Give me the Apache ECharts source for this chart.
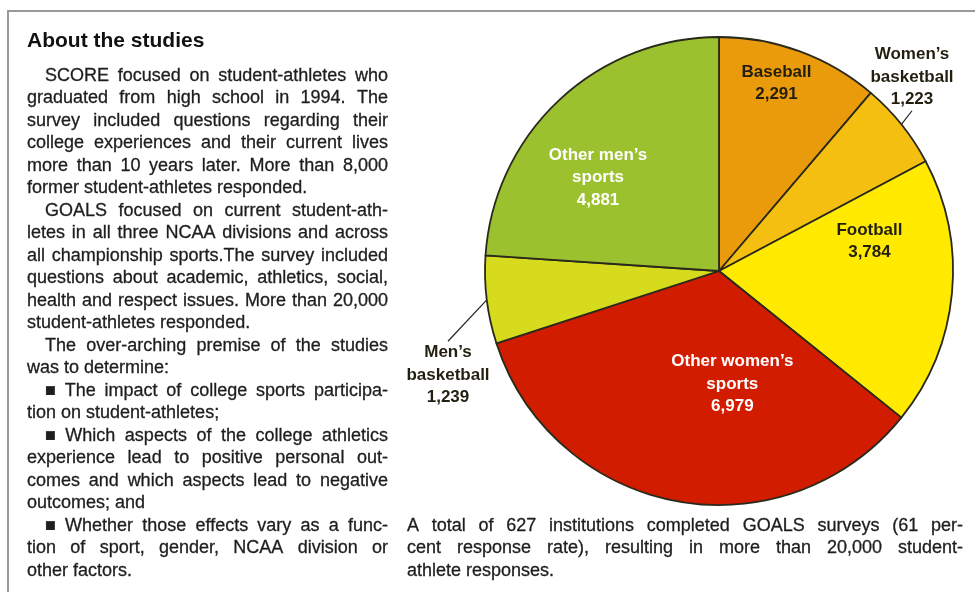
<!DOCTYPE html>
<html>
<head>
<meta charset="utf-8">
<title>About the studies</title>
<script src="https://cdn.jsdelivr.net/npm/echarts@6/dist/echarts.min.js"></script>
<style>
  html, body { margin: 0; padding: 0; background: #fff; }
  #wrap { position: relative; width: 975px; height: 592px; overflow: hidden; }
  #chart { position: absolute; left: 0; top: 0; width: 975px; height: 592px; }
  .txt { position: absolute; font-family: 'Liberation Sans', Arial, sans-serif; color: #1e1e1e; }
  .title { left: 27px; top: 28px; font-size: 21px; line-height: 24px; font-weight: bold; color: #111; }
  .line { height: 22.5px; line-height: 22.5px; font-size: 18px; white-space: nowrap; display: flex; -webkit-text-stroke: 0.3px #1e1e1e; }
  .line.just { justify-content: space-between; }
</style>
</head>
<body>
<div id="wrap">
  <div id="chart"></div>
  <div class="txt title">About the studies</div>
</div>
<script>
// pie data
const categories = ['Baseball', 'Women’s basketball', 'Football', 'Other women’s sports', 'Men’s basketball', 'Other men’s sports']
const labelNames = ['Baseball', 'Women’s\nbasketball', 'Football', 'Other women’s\nsports', 'Men’s\nbasketball', 'Other men’s\nsports']
const values = [2291, 1223, 3784, 6979, 1239, 4881]

// left column text, one entry per printed line: [text, justify, indent]
const bodyLines = [
  ['SCORE focused on student-athletes who', true, true],
  ['graduated from high school in 1994. The', true, false],
  ['survey included questions regarding their', true, false],
  ['college experiences and their current lives', true, false],
  ['more than 10 years later. More than 8,000', true, false],
  ['former student-athletes responded.', false, false],
  ['GOALS focused on current student-ath-', true, true],
  ['letes in all three NCAA divisions and across', true, false],
  ['all championship sports.The survey included', true, false],
  ['questions about academic, athletics, social,', true, false],
  ['health and respect issues. More than 20,000', true, false],
  ['student-athletes responded.', false, false],
  ['The over-arching premise of the studies', true, true],
  ['was to determine:', false, false],
  ['■ The impact of college sports participa-', true, true],
  ['tion on student-athletes;', false, false],
  ['■ Which aspects of the college athletics', true, true],
  ['experience lead to positive personal out-', true, false],
  ['comes and which aspects lead to negative', true, false],
  ['outcomes; and', false, false],
  ['■ Whether those effects vary as a func-', true, true],
  ['tion of sport, gender, NCAA division or', true, false],
  ['other factors.', false, false]
]
const captionLines = [
  ['A total of 627 institutions completed GOALS surveys (61 per-', true],
  ['cent response rate), resulting in more than 20,000 student-', true],
  ['athlete responses.', false]
]

const palette = ['#E99B0B', '#F5BF12', '#FFEA00', '#D21C00', '#D6DB1E', '#9CC12F']
const font = "'Liberation Sans', Arial, sans-serif"

// text block
const wrap = document.getElementById('wrap')
const firstY = 75
const lineGap = 22.5
function addLine(text, justify, left, right, idx) {
  const d = document.createElement('div')
  d.className = 'txt line' + (justify ? ' just' : '')
  d.style.left = left + 'px'
  d.style.width = (right - left) + 'px'
  d.style.top = (firstY + idx * lineGap - lineGap / 2) + 'px'
  if (justify) {
    text.split(' ').forEach(w => {
      const s = document.createElement('span')
      s.textContent = w
      d.appendChild(s)
    })
  } else {
    d.textContent = text
  }
  wrap.appendChild(d)
}
bodyLines.forEach((l, i) => addLine(l[0], l[1], l[2] ? 45 : 27, 388, i))
captionLines.forEach((l, i) => addLine(l[0], l[1], 407, 963, 20 + i))

// pie
const chart = echarts.init(document.getElementById('chart'))
const darkText = '#231f10'
const itemLabel = [
  { color: darkText, offset: [16, -75] },
  { position: 'outside', color: darkText },
  { color: darkText, offset: [31, -41] },
  { color: '#fff', offset: [35, -5] },
  { position: 'outside', color: darkText },
  { color: '#fff', offset: [-39, -6] }
]
const outsideLabels = { 1: [912, 77], 4: [448, 375] }

const option = {
  animation: false,
  backgroundColor: '#fff',
  graphic: [
    {
      type: 'polyline',
      shape: { points: [[8, 592], [8, 11], [975, 11]] },
      style: { stroke: '#999', lineWidth: 2, fill: null },
      silent: true
    }
  ],
  series: [{
    type: 'pie',
    center: [719, 271],
    radius: [0, 234],
    startAngle: 90,
    clockwise: true,
    avoidLabelOverlap: false,
    emphasis: { disabled: true },
    itemStyle: { borderColor: '#2a2a1c', borderWidth: 1.8 },
    label: {
      show: true,
      position: 'inside',
      fontFamily: font,
      fontWeight: 'bold',
      fontSize: 17,
      lineHeight: 22.5,
      formatter: p => labelNames[p.dataIndex] + '\n' + p.value.toLocaleString('en-US')
    },
    labelLine: {
      show: true,
      length: 12,
      length2: 0,
      lineStyle: { color: '#222', width: 1.2 }
    },
    labelLayout: function(params) {
      const pos = outsideLabels[params.dataIndex]
      if (!pos) return
      return { x: pos[0], y: pos[1], align: 'center', verticalAlign: 'middle' }
    },
    data: categories.map((name, i) => ({
      name: name,
      value: values[i],
      itemStyle: { color: palette[i] },
      label: itemLabel[i]
    }))
  }]
}
chart.setOption(option)
</script>
</body>
</html>
